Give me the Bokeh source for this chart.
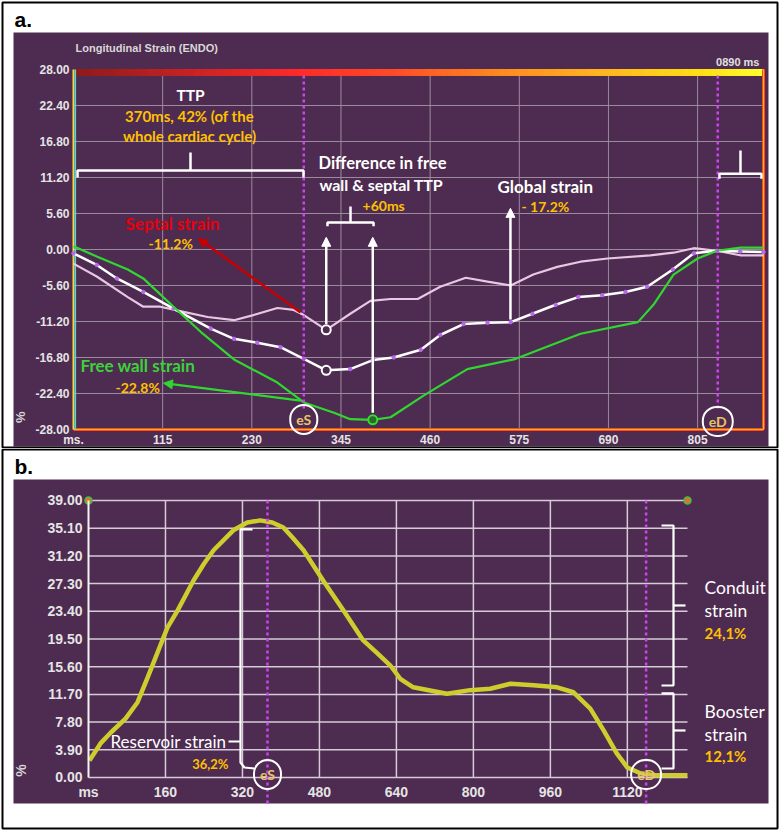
import numpy as np
from bokeh.plotting import figure
from bokeh.layouts import column
from bokeh.models import FixedTicker, Label, Arrow, NormalHead, BoxAnnotation
from bokeh.embed import file_html
from bokeh.resources import INLINE

# ---------------- panel a: LV longitudinal strain (ms, %) ----------------
free_ms = [0, 30, 70, 90, 129, 164, 207, 263, 297, 336, 357, 386, 409, 452, 508, 568, 654, 728, 748, 774, 805, 830, 860, 890]
free_val = [0.5, -1.1, -3.1, -4.5, -8.9, -12.8, -17.1, -20.7, -23.8, -25.4, -26.4, -26.5, -26.1, -22.7, -18.6, -17.1, -13.1, -11.3, -8.6, -3.9, -1.4, -0.2, 0.3, 0.3]

glob_ms = [0, 30, 56, 90, 129, 177, 207, 237, 267, 297, 326, 357, 386, 413, 448, 473, 503, 534, 564, 592, 622, 651, 682, 712, 740, 773, 800, 830, 860, 890]
glob_val = [-0.6, -2.4, -4.5, -6.6, -9.2, -12.3, -13.9, -14.5, -15.2, -17.0, -18.8, -18.6, -17.2, -16.8, -15.6, -13.3, -11.6, -11.4, -11.3, -10.0, -8.6, -7.4, -7.1, -6.6, -5.8, -3.1, -0.6, -0.2, -0.3, -0.4]

sept_ms = [0, 30, 70, 90, 112, 142, 173, 207, 232, 263, 284, 297, 326, 357, 383, 409, 444, 473, 506, 534, 564, 593, 624, 654, 689, 744, 774, 800, 830, 860, 890]
sept_val = [-2.2, -4.2, -7.4, -8.9, -8.9, -9.7, -10.5, -11.0, -10.2, -9.1, -9.4, -10.2, -12.5, -10.0, -8.0, -7.7, -7.7, -5.8, -4.4, -5.0, -5.6, -3.9, -2.7, -1.9, -1.4, -0.9, -0.5, 0.2, -0.2, -0.9, -0.9]

a_xticks = [0, 115, 230, 345, 460, 575, 690, 805]
a_xlabels = ["ms.", "115", "230", "345", "460", "575", "690", "805"]
a_yticks = [-28.0, -22.4, -16.8, -11.2, -5.6, 0.0, 5.6, 11.2, 16.8, 22.4, 28.0]
a_ylabels = ["-28.00", "-22.40", "-16.80", "-11.20", "-5.60", "0.00", "5.60", "11.20", "16.80", "22.40", "28.00"]
a_es, a_ed = 297, 831
a_xmax, a_ymin, a_ymax = 890, -28.0, 28.0

# ---------------- panel b: LA strain (ms, %) ----------------
la_ms = [2, 25, 46, 77, 102, 123, 143, 164, 185, 218, 240, 260, 301, 330, 357, 382, 405, 424, 447, 488, 530, 571, 600, 627, 648, 675, 745, 793, 835, 877, 925, 974, 1008, 1043, 1071, 1098, 1120, 1147, 1182, 1245]
la_val = [2.4, 4.8, 6.3, 8.3, 10.6, 14.1, 17.5, 21.1, 23.5, 27.7, 30.1, 32.0, 34.8, 35.9, 36.2, 35.9, 35.2, 33.8, 32.0, 27.7, 23.5, 19.3, 17.5, 15.8, 13.9, 12.7, 11.8, 12.3, 12.5, 13.2, 13.0, 12.7, 12.0, 9.7, 6.6, 3.4, 1.4, 0.6, 0.3, 0.3]

b_xticks = [0, 160, 320, 480, 640, 800, 960, 1120]
b_xlabels = ["ms", "160", "320", "480", "640", "800", "960", "1120"]
b_yticks = [0.0, 3.9, 7.8, 11.7, 15.6, 19.5, 23.4, 27.3, 31.2, 35.1, 39.0]
b_ylabels = ["0.00", "3.90", "7.80", "11.70", "15.60", "19.50", "23.40", "27.30", "31.20", "35.10", "39.00"]
b_es, b_ed = 372, 1159
b_xmax, b_ymax = 1245, 39.0

# ---------------- styles ----------------
PURPLE = "#4E2B50"
ORANGE = "#FFC000"
MAGENTA = "#CC44EE"
TXT = "Lato"
W = 780


def make_fig(h, xr, yr):
    p = figure(width=W, height=h, x_range=xr, y_range=yr, output_backend="svg", title=None,
               toolbar_location=None, min_border_left=0, min_border_right=0,
               min_border_top=0, min_border_bottom=0)
    p.background_fill_color = "white"
    p.border_fill_color = "white"
    p.outline_line_color = None
    p.grid.visible = False
    return p


def style_axes(p, xt, xl, yt, yl, size, xstand, ystand, xloc, yloc, xb, yb):
    p.xaxis.ticker = FixedTicker(ticks=xt)
    p.xaxis.major_label_overrides = dict(zip(xt, xl))
    p.yaxis.ticker = FixedTicker(ticks=yt)
    p.yaxis.major_label_overrides = dict(zip(yt, yl))
    for ax in p.axis:
        ax.axis_line_color = None
        ax.major_tick_line_color = None
        ax.minor_tick_line_color = None
        ax.major_tick_out = 0
        ax.major_tick_in = 0
        ax.minor_tick_out = 0
        ax.major_label_text_color = "#E4E4E4"
        ax.major_label_text_font = "Liberation Sans"
        ax.major_label_text_font_style = "bold"
        ax.major_label_text_font_size = size
    p.xaxis.major_label_standoff = xstand
    p.yaxis.major_label_standoff = ystand
    p.xaxis.fixed_location = xloc
    p.yaxis.fixed_location = yloc
    p.xaxis.bounds = xb
    p.yaxis.bounds = yb


def grid(p, xt, yt, x0, x1, y0, y1, color, width):
    p.segment(x0=xt, y0=[y0] * len(xt), x1=xt, y1=[y1] * len(xt), line_color=color, line_width=width)
    p.segment(x0=[x0] * len(yt), y0=yt, x1=[x1] * len(yt), y1=yt, line_color=color, line_width=width)


def lab(p, x, y, text, size, color, bold=True, align="left", font=TXT, baseline="middle", angle=0.0):
    p.add_layout(Label(x=x, y=y, text=text, text_font=font, text_font_size=size,
                       text_font_style="bold" if bold else "normal", text_color=color,
                       text_align=align, text_baseline=baseline, angle=angle))


def ring(p, x, y, text):
    p.add_layout(Label(x=x, y=y, text=text, text_font=TXT, text_font_size="14px",
                       text_font_style="bold", text_color="#E9C26E", text_align="center",
                       text_baseline="middle", border_line_color="white", border_line_width=2,
                       padding=6, border_radius=14))


def arr(p, x0, y0, x1, y1, color, w=2.5):
    p.add_layout(Arrow(end=NormalHead(size=9, fill_color=color, line_color=color), x_start=x0, y_start=y0,
                       x_end=x1, y_end=y1, line_color=color, line_width=w))


def panel_box(p, purple, border):
    p.add_layout(BoxAnnotation(left=purple[0], right=purple[1], bottom=purple[2], top=purple[3],
                               fill_color=PURPLE, fill_alpha=1.0, line_color=None, level="image"))
    p.add_layout(BoxAnnotation(left=border[0], right=border[1], bottom=border[2], top=border[3],
                               fill_alpha=0.0, line_color="black", line_alpha=1.0, line_width=2,
                               level="image"))


# =============== panel a ===============
pa = make_fig(448, (-94.16, 911.92), (-30.956, 38.733))
style_axes(pa, a_xticks, a_xlabels, a_yticks, a_ylabels, "12px", 4, 4, a_ymin, 0,
           (0, a_xmax), (a_ymin, a_ymax))
panel_box(pa, (-77.39, 896.45, -30.64, 33.76), (-91.58, 908.06, -30.8, 38.42))

grid(pa, a_xticks, a_yticks, 0, a_xmax, a_ymin, a_ymax, "#9C8C9E", 1)

# colour bar along the top
stops_x = [0, 290, 410, 550, 680, 810, 890]
stops_r = [142, 255, 255, 255, 255, 255, 255]
stops_g = [27, 42, 74, 138, 181, 224, 255]
stops_b = [27, 42, 40, 32, 32, 21, 48]
edges = np.linspace(0, a_xmax, 121)
mids = (edges[:-1] + edges[1:]) / 2
cols = ["#%02x%02x%02x" % (int(np.interp(m, stops_x, stops_r)), int(np.interp(m, stops_x, stops_g)),
                             int(np.interp(m, stops_x, stops_b))) for m in mids]
pa.quad(left=edges[:-1], right=edges[1:], top=a_ymax, bottom=27.07, fill_color=cols, line_color=cols)

# frame edge lines
pa.segment(x0=[0, a_xmax], y0=[a_ymin, a_ymin], x1=[a_xmax, a_xmax], y1=[a_ymin, a_ymax],
           line_color="#FF4A14", line_width=3)
pa.segment(x0=[0, a_xmax], y0=[a_ymin, a_ymin], x1=[a_xmax, a_xmax], y1=[a_ymin, a_ymax],
           line_color="#FFB030", line_width=1)
pa.segment(x0=[0], y0=[a_ymin], x1=[0], y1=[a_ymax], line_color="#FFD040", line_width=2)
pa.segment(x0=[2.4], y0=[a_ymin], x1=[2.4], y1=[a_ymax], line_color="#40DDE0", line_width=1.5)

# curves
pa.line(sept_ms, sept_val, line_color="#E9C6E3", line_width=2.2)
pa.line(glob_ms, glob_val, line_color="white", line_width=2.5)
pa.scatter(glob_ms, glob_val, size=3.5, color="#B868F0")
pa.line(free_ms, free_val, line_color="#2FD82F", line_width=2.2)

# eS / eD markers
pa.segment(x0=[a_es, a_ed], y0=[27.07, 27.07], x1=[a_es, a_ed], y1=[-25.0, -25.0],
           line_color=MAGENTA, line_width=2.5, line_dash="3 3")

# peak markers
i_s = int(np.argmin(sept_val))
i_g = int(np.argmin(glob_val))
i_f = int(np.argmin(free_val))
pa.scatter([sept_ms[i_s], glob_ms[i_g]], [sept_val[i_s], glob_val[i_g]], size=9,
           fill_color=PURPLE, line_color="white", line_width=2)
pa.scatter([free_ms[i_f]], [free_val[i_f]], size=9, fill_color="#2A6A2A", line_color="#2FE02F", line_width=2)

# braces
pa.multi_line(xs=[[5.2, 5.2, 296.7, 296.7], [150.9, 150.9],
                  [327.6, 327.6, 387.0, 387.0], [357.3, 357.3],
                  [833.2, 833.2, 887.4, 887.4], [860.3, 860.3]],
              ys=[[11.2, 12.3, 12.3, 11.2], [12.3, 15.1],
                  [3.6, 4.2, 4.2, 3.6], [4.2, 6.7],
                  [11.0, 11.8, 11.8, 11.0], [11.8, 15.4]],
              line_color="white", line_width=2.5)

# arrows
arr(pa, sept_ms[i_s], -11.6, sept_ms[i_s], 1.9, "white")
arr(pa, free_ms[i_f], -25.4, free_ms[i_f], 1.9, "white")
arr(pa, 563.6, -10.9, 563.6, 6.4, "white")
arr(pa, 292.8, -9.8, 161.2, 1.7, "#C80000", 2.5)
arr(pa, 292.8, -23.5, 116.1, -20.8, "#2FD82F", 2.2)

ring(pa, a_es, -26.44, "eS")
ring(pa, a_ed, -26.75, "eD")

# texts
lab(pa, -76.1, 35.82, "a.", "21px", "black", font="Liberation Sans")
lab(pa, 2.6, 31.27, "Longitudinal Strain (ENDO)", "11px", "#D8D8D8", font="Liberation Sans")
lab(pa, 884.8, 29.1, "0890 ms", "11px", "#E0E0E0", font="Liberation Sans", align="right")
lab(pa, -68.4, -26.1, "%", "13px", "#D8D8D8", font="Liberation Sans", align="center", angle=np.pi / 2)
lab(pa, 150.9, 23.96, "TTP", "15.5px", "white", align="center")
lab(pa, 149.6, 20.69, "370ms, 42% (of the", "15px", ORANGE, align="center")
lab(pa, 149.6, 17.58, "whole cardiac cycle)", "15px", ORANGE, align="center")
lab(pa, 316.0, 13.38, "Difference in free", "16.5px", "white")
lab(pa, 317.3, 10.11, "wall & septal TTP", "16px", "white")
lab(pa, 372.8, 6.84, "+60ms", "14px", ORANGE)
lab(pa, 546.9, 9.8, "Global strain", "17px", "white")
lab(pa, 577.8, 6.69, "- 17.2%", "14px", ORANGE)
lab(pa, 67.1, 4.04, "Septal strain", "17px", "#E8000B")
lab(pa, 96.7, 0.93, "-11.2%", "14px", ORANGE)
lab(pa, 9.0, -18.04, "Free wall strain", "17px", "#3CD23C")
lab(pa, 54.2, -21.47, "-22.8%", "14px", ORANGE)

# =============== panel b ===============
pb = make_fig(383, (-182.9, 1438.3), (-7.603, 46.32))
style_axes(pb, b_xticks, b_xlabels, b_yticks, b_ylabels, "14px", 7, 6, 0, 0,
           (0, b_xmax), (0, b_ymax))
pb.yaxis.axis_line_color = "#F4F4F4"
pb.yaxis.axis_line_width = 2
panel_box(pb, (-155.9, 1413.4, -3.66, 41.96), (-178.75, 1432.1, -7.18, 46.18))

grid(pb, b_xticks[1:], b_yticks, 0, b_xmax, 0, b_ymax, "#D6CCD8", 1.5)

pb.line(la_ms, la_val, line_color="#CDCD2E", line_width=4.5)
pb.scatter([0, b_xmax], [b_ymax, b_ymax], size=7, fill_color="#E07030", line_color="#40C040", line_width=1.5)

pb.segment(x0=[b_es, b_ed], y0=[b_ymax, b_ymax], x1=[b_es, b_ed], y1=[-3.66, -3.66],
           line_color=MAGENTA, line_width=2.5, line_dash="3 3")

pb.multi_line(xs=[[340.9, 315.9, 315.9, 324.2, 345.0], [291.0, 315.9],
                  [1191.0, 1215.9, 1215.9, 1191.0], [1215.9, 1240.9],
                  [1191.0, 1215.9, 1215.9, 1191.0], [1215.9, 1240.9]],
              ys=[[34.92, 34.92, 2.11, 1.41, 1.27], [5.07, 5.07],
                  [35.48, 35.48, 12.95, 12.95], [24.22, 24.22],
                  [11.83, 11.83, 1.27, 1.27], [6.62, 6.62]],
              line_color="white", line_width=2.2)

ring(pb, b_es, 0.42, "eS")
ring(pb, b_ed, 0.42, "eD")

lab(pb, -153.8, 43.83, "b.", "21px", "black", font="Liberation Sans")
lab(pb, -139.3, 0.99, "%", "14px", "#D8D8D8", font="Liberation Sans", align="center", angle=np.pi / 2)
lab(pb, 45.7, 5.07, "Reservoir strain", "17px", "white", bold=False)
lab(pb, 291.0, 1.97, "36,2%", "13px", ORANGE, align="right")
lab(pb, 1280.3, 26.75, "Conduit", "17.5px", "white", bold=False)
lab(pb, 1280.3, 23.51, "strain", "17.5px", "white", bold=False)
lab(pb, 1280.3, 20.41, "24,1%", "15px", ORANGE)
lab(pb, 1280.3, 9.29, "Booster", "17.5px", "white", bold=False)
lab(pb, 1280.3, 6.05, "strain", "17.5px", "white", bold=False)
lab(pb, 1280.3, 2.96, "12,1%", "15px", ORANGE)

layout = column(pa, pb, spacing=0)
open("out.html", "w").write(file_html(layout, INLINE))
